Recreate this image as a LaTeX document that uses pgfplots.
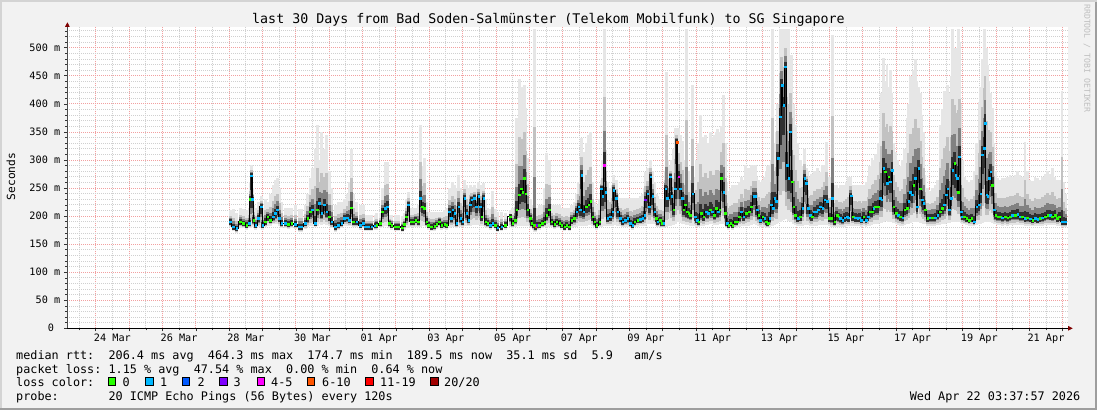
\documentclass[border=0pt]{standalone}
\usepackage{fontspec}
\setmainfont{DejaVu Sans Mono}
\usepackage{pgfplots}
\usepackage{pgfplotstable}
\pgfplotsset{compat=1.18}
\usetikzlibrary{arrows.meta}

\definecolor{bgc}{HTML}{F2F2F2}
\definecolor{shadeA}{HTML}{D4D4D4}
\definecolor{shadeB}{HTML}{9E9E9E}
\definecolor{mgrid}{HTML}{F2A0A0}
\definecolor{ngrid}{HTML}{D0D0D0}
\definecolor{arrowc}{HTML}{7F0000}
\definecolor{ls0}{HTML}{26FF00}
\definecolor{ls1}{HTML}{00B8FF}
\definecolor{ls2}{HTML}{0059FF}
\definecolor{ls3}{HTML}{7E00FF}
\definecolor{ls4}{HTML}{FF00FF}
\definecolor{ls6}{HTML}{FF5500}
\definecolor{ls11}{HTML}{FF0000}
\definecolor{ls20}{HTML}{A10000}
\definecolor{sm1}{HTML}{E6E6E6}
\definecolor{sm2}{HTML}{C2C2C2}
\definecolor{sm3}{HTML}{818181}
\definecolor{sm4}{HTML}{303030}

\newcommand\lgf{\fontsize{11.8pt}{14pt}\selectfont}

% x = days since 24 Mar 00:00, med/lo/hi in ms, c = loss class
\pgfplotstableread{
x med lo hi c
4.03 190 180 210 b
4.13 181 173 212 b
4.23 178 170 205 b
4.33 190 179 215 g
4.43 187 178 212 g
4.53 184 176 210 g
4.60 187 178 215 b
4.64 230 179 260 g
4.67 272 180 291 b
4.70 230 180 250 b
4.74 193 180 220 g
4.80 184 176 215 b
4.88 196 180 225 b
4.96 217 178 235 b
5.01 184 176 215 b
5.08 190 180 230 g
5.16 199 183 225 g
5.24 193 183 240 g
5.33 199 185 255 b
5.38 205 185 265 b
5.45 211 185 268 b
5.51 196 183 250 b
5.58 187 178 225 b
5.68 187 178 215 b
5.78 185 177 215 g
5.88 187 178 215 g
5.99 185 177 220 b
6.10 181 172 212 b
6.18 181 172 212 b
6.28 187 177 220 b
6.36 196 180 240 g
6.43 208 182 267 g
6.50 211 183 285 b
6.58 187 180 320 b
6.64 211 183 362 g
6.71 223 185 300 b
6.78 205 184 350 b
6.86 220 185 320 b
6.93 208 184 344 b
7.00 199 182 280 g
7.08 190 178 250 b
7.18 181 172 220 b
7.28 184 175 225 b
7.38 187 178 225 b
7.46 196 182 230 b
7.54 197 183 240 b
7.60 193 182 260 b
7.66 215 183 320 g
7.73 190 180 240 g
7.83 190 180 225 b
7.93 184 176 220 b
8.03 187 178 220 b
8.08 181 173 202 b
8.18 181 173 202 b
8.28 181 173 202 b
8.38 183 175 202 b
8.43 184 176 205 g
8.53 187 178 205 g
8.60 208 180 250 g
8.68 214 182 297 b
8.75 217 182 297 b
8.80 187 178 202 g
8.88 184 176 202 g
8.98 181 173 202 g
9.08 181 173 202 g
9.19 179 171 200 g
9.26 185 176 205 g
9.32 199 178 230 g
9.38 220 179 243 b
9.46 190 180 214 g
9.53 190 180 214 g
9.60 193 181 214 g
9.68 190 180 220 g
9.73 232 181 362 b
9.80 217 182 290 g
9.86 214 182 303 g
9.93 190 180 225 g
9.98 184 176 208 g
10.06 181 173 208 g
10.16 182 174 208 g
10.23 185 177 208 g
10.30 190 179 208 g
10.38 184 176 208 g
10.46 185 177 210 g
10.53 184 176 215 g
10.60 208 178 250 b
10.66 196 180 240 b
10.71 211 180 260 b
10.76 205 180 255 b
10.83 187 178 250 b
10.88 217 180 273 b
10.95 196 180 250 b
11.01 190 180 245 b
11.06 232 182 265 b
11.13 205 182 255 b
11.18 193 182 250 b
11.23 220 183 255 b
11.28 229 184 252 b
11.35 232 184 255 b
11.41 217 184 250 b
11.48 235 184 261 b
11.53 217 184 255 b
11.58 199 182 250 g
11.63 232 183 258 b
11.70 190 180 230 g
11.76 187 178 215 g
11.83 184 176 212 b
11.90 187 178 245 b
11.98 184 176 212 g
12.06 179 171 208 b
12.18 181 173 208 b
12.28 184 176 205 g
12.43 199 180 210 g
12.50 187 178 215 g
12.58 193 180 240 g
12.63 211 182 374 g
12.70 238 183 445 g
12.76 249 183 404 g
12.80 243 183 430 g
12.85 267 183 433 g
12.90 240 183 392 g
12.96 211 182 303 g
13.03 196 180 230 g
13.08 187 178 220 g
13.13 184 175 215 g
13.17 184 172 534 g
13.20 181 172 215 o
13.24 184 175 215 p
13.30 184 176 220 g
13.39 187 178 220 g
13.46 190 180 250 g
13.53 202 181 312 g
13.60 211 181 300 g
13.68 190 180 220 g
13.76 185 177 220 g
13.83 190 178 220 g
13.91 187 178 220 g
13.97 184 176 215 g
14.06 181 173 215 g
14.13 184 176 215 g
14.20 181 173 215 g
14.28 193 178 220 g
14.35 196 180 225 g
14.43 208 181 240 b
14.48 217 182 260 b
14.53 211 182 303 b
14.58 273 183 339 b
14.63 208 183 315 b
14.71 217 183 330 g
14.78 220 184 344 g
14.85 226 184 350 g
14.90 199 182 260 g
14.96 190 180 225 g
15.03 184 176 220 g
15.11 190 180 230 g
15.16 249 181 265 b
15.21 235 182 300 b
15.25 291 183 534 m
15.30 243 183 318 b
15.36 196 182 260 b
15.43 199 182 250 b
15.50 208 183 255 b
15.54 246 184 273 b
15.61 232 184 265 b
15.66 208 183 240 b
15.73 196 182 232 b
15.80 190 180 232 b
15.88 193 180 232 b
15.96 196 180 232 b
16.03 187 178 232 b
16.10 184 176 232 b
16.17 190 180 232 g
16.26 193 181 232 g
16.33 194 182 235 b
16.40 196 182 240 b
16.46 202 183 250 b
16.48 229 184 279 p
16.56 240 185 285 b
16.60 217 185 285 b
16.65 270 186 300 b
16.70 235 186 280 b
16.76 208 185 260 b
16.81 196 183 240 g
16.86 190 180 235 b
16.93 193 180 230 g
16.98 187 178 230 g
17.03 187 178 230 b
17.10 249 180 280 b
17.13 232 181 457 b
17.16 232 182 300 b
17.23 270 183 290 b
17.28 235 184 300 b
17.33 211 184 320 g
17.38 249 186 356 b
17.43 332 190 356 o
17.48 270 190 356 m
17.53 249 188 345 b
17.59 232 186 333 b
17.63 211 185 300 g
17.68 220 185 290 g
17.73 208 184 534 g
17.78 205 184 280 g
17.83 202 183 265 g
17.90 240 183 433 b
17.98 199 182 270 b
18.03 193 181 300 b
18.08 190 180 330 g
18.15 205 182 380 g
18.23 199 182 340 g
18.30 208 184 345 b
18.36 205 184 330 b
18.43 211 185 350 g
18.48 208 185 340 b
18.55 202 184 345 g
18.61 214 184 350 g
18.66 208 184 355 b
18.71 211 185 350 g
18.76 267 186 360 g
18.83 243 186 416 b
18.88 205 184 330 g
18.93 187 179 260 b
18.98 184 176 245 g
19.04 187 178 250 g
19.10 184 176 255 g
19.16 190 178 255 g
19.23 190 179 255 g
19.30 199 181 260 g
19.36 208 182 270 b
19.43 199 182 265 b
19.50 205 183 291 g
19.59 208 183 285 g
19.66 217 184 291 g
19.73 235 185 291 b
19.78 235 185 291 b
19.83 211 184 270 b
19.88 202 183 265 g
19.93 193 181 260 b
20.00 199 181 265 g
20.06 196 181 270 b
20.11 190 180 280 g
20.16 187 179 290 g
20.21 196 180 291 b
20.26 220 182 300 b
20.31 214 183 534 b
20.36 232 184 330 b
20.41 226 185 350 b
20.46 303 188 400 b
20.53 377 190 534 b
20.58 433 192 534 b
20.63 398 193 534 b
20.68 466 194 534 b
20.73 291 194 534 b
20.78 267 192 534 b
20.83 350 192 487 b
20.88 261 190 487 g
20.93 217 186 400 g
20.98 202 184 362 g
21.06 196 182 330 b
21.13 199 182 300 g
21.20 214 183 290 b
21.26 267 184 320 b
21.31 258 185 285 b
21.36 214 184 280 b
21.43 202 183 270 b
21.48 199 182 275 g
21.55 208 183 280 b
21.61 208 183 275 b
21.66 211 184 285 b
21.73 217 184 279 b
21.80 214 184 291 b
21.86 229 184 291 b
21.93 226 184 332 b
22.00 196 182 270 g
22.06 196 180 265 g
22.09 232 180 523 b
22.16 190 180 255 g
22.23 202 181 255 g
22.28 199 181 250 g
22.33 196 181 255 b
22.40 193 180 255 b
22.46 197 181 255 b
22.53 199 182 260 b
22.57 197 182 270 b
22.65 236 183 270 b
22.71 199 183 255 g
22.78 197 182 255 b
22.85 196 182 255 b
22.90 197 182 255 b
22.96 193 181 255 b
23.03 199 182 255 g
23.10 193 181 260 b
23.16 199 182 270 b
23.21 208 183 290 g
23.28 208 184 303 g
23.33 214 185 300 b
23.38 217 185 310 g
23.46 217 186 330 g
23.53 232 187 362 b
23.57 229 188 420 b
23.63 285 190 481 b
23.68 279 191 440 g
23.73 258 191 470 b
23.78 270 190 430 g
23.83 261 190 460 b
23.88 282 190 420 b
23.93 217 187 330 g
24.00 205 185 315 g
24.06 202 184 300 b
24.13 199 183 290 g
24.20 197 183 300 b
24.26 211 184 320 g
24.33 214 185 375 g
24.38 226 186 400 b
24.43 243 188 450 b
24.48 238 189 420 b
24.53 255 190 460 g
24.58 267 190 480 b
24.63 217 189 440 b
24.68 285 189 430 b
24.73 249 188 420 g
24.78 229 187 380 b
24.83 223 186 350 b
24.87 211 185 273 g
24.95 196 183 250 g
25.02 197 183 245 b
25.09 197 183 250 g
25.17 197 183 255 b
25.25 202 184 265 b
25.32 208 184 362 g
25.39 214 185 390 g
25.45 220 186 422 b
25.50 238 187 410 b
25.55 249 188 433 b
25.60 211 188 420 b
25.65 232 189 450 b
25.70 282 190 534 b
25.76 294 190 500 g
25.79 273 190 481 b
25.84 267 190 500 b
25.87 243 190 534 g
25.90 306 190 510 b
25.95 208 188 400 b
25.99 199 186 300 b
26.05 199 185 270 g
26.12 196 184 265 g
26.19 193 183 260 g
26.27 196 183 265 g
26.34 190 182 280 b
26.42 217 184 330 b
26.49 220 185 404 b
26.54 240 186 430 b
26.59 309 188 480 b
26.64 321 190 534 b
26.67 365 190 534 b
26.72 238 190 500 b
26.75 235 190 470 b
26.79 267 190 440 b
26.84 279 189 420 b
26.89 255 188 392 g
26.94 211 186 330 b
26.99 202 185 280 g
27.05 199 184 267 g
27.12 199 184 265 g
27.19 197 183 267 b
27.27 199 184 267 g
27.35 197 183 270 g
27.42 199 184 273 g
27.49 202 184 270 b
27.57 202 184 273 g
27.65 203 184 280 b
27.72 199 184 273 b
27.79 199 184 270 g
27.87 196 183 332 b
27.94 197 183 280 g
28.02 195 183 265 b
28.10 193 182 262 g
28.17 196 182 270 b
28.25 194 182 268 b
28.32 196 182 265 g
28.39 197 183 270 b
28.47 199 184 275 g
28.55 202 184 280 g
28.62 201 184 275 b
28.69 199 184 285 g
28.77 202 184 270 g
28.84 196 183 265 g
28.90 199 183 265 g
28.98 190 180 422 b
29.02 190 180 260 b
29.09 190 180 240 b
}\rtt

\pgfplotsset{
  smoke/.style={draw=none, mark=none, forget plot,
    error bars/.cd, y dir=plus, y explicit, error mark=none,
    error bar style={draw=#1, solid, line width=2.9pt, line cap=butt}},
}

\begin{document}
\begin{tikzpicture}[x=1pt,y=1pt]
\useasboundingbox (0,0) rectangle (1097,410);
\fill[bgc] (0,0) rectangle (1097,410);
\fill[shadeA] (0,0) rectangle (2,410);
\fill[shadeA] (0,408) rectangle (1097,410);
\fill[shadeB] (0,0) rectangle (1097,2);
\fill[shadeB] (1095,0) rectangle (1097,408);

\begin{axis}[
  at={(67.4pt,81.7pt)}, anchor=south west,
  scale only axis, width=1000.3pt, height=301pt,
  xmin=-0.85, xmax=29.15, ymin=0, ymax=536.3,
  axis background/.style={fill=white},
  axis x line*=bottom, axis y line*=left,
  x axis line style={black, line width=0.6pt, -{Triangle[length=4.5pt,width=4.5pt,color=arrowc]}, shorten >=-5pt},
  y axis line style={black!70, line width=0.6pt, -{Triangle[length=4.5pt,width=4.5pt,color=arrowc]}, shorten >=-5pt},
  xtick={-1,0,...,30}, xticklabels={},
  minor x tick num=1,
  extra x ticks={0.5,2.5,4.5,6.5,8.5,10.5,12.5,14.5,16.5,18.5,20.5,22.5,24.5,26.5,28.5},
  extra x tick labels={24 Mar,26 Mar,28 Mar,30 Mar,01 Apr,03 Apr,05 Apr,07 Apr,09 Apr,11 Apr,13 Apr,15 Apr,17 Apr,19 Apr,21 Apr},
  extra x tick style={grid=none, major tick length=0pt},
  ytick={0,50,...,550},
  yticklabels={0~~,50 m,100 m,150 m,200 m,250 m,300 m,350 m,400 m,450 m,500 m,550 m},
  minor y tick num=4,
  grid=both,
  major grid style={mgrid, dash pattern=on 1pt off 1pt, line width=0.7pt},
  minor grid style={ngrid, dash pattern=on 1pt off 1pt, line width=0.7pt},
  tick align=outside,
  major tick length=3pt, minor tick length=2pt,
  tick style={black!80, line width=0.5pt},
  ticklabel style={font=\fontsize{10.2pt}{12pt}\selectfont},
  xticklabel style={anchor=base, inner sep=0pt, yshift=-12.7pt},
  yticklabel style={anchor=base east, inner sep=0pt, xshift=-4pt, yshift=-3.6pt},
  clip=true,
]
\addplot[smoke=sm1] table[x=x, y=lo,
  y error expr=\thisrow{hi}-\thisrow{lo}]{\rtt};
\addplot[smoke=sm2] table[x=x, y expr=\thisrow{med}-0.75*(\thisrow{med}-\thisrow{lo}),
  y error expr=0.5*(\thisrow{hi}-\thisrow{med})+0.75*(\thisrow{med}-\thisrow{lo})]{\rtt};
\addplot[smoke=sm3] table[x=x, y expr=\thisrow{med}-0.5*(\thisrow{med}-\thisrow{lo}),
  y error expr=0.24*(\thisrow{hi}-\thisrow{med})+2+0.5*(\thisrow{med}-\thisrow{lo})]{\rtt};
\addplot[smoke=sm4] table[x=x, y expr=\thisrow{med}-3-0.25*(\thisrow{med}-\thisrow{lo}),
  y error expr=6+0.08*(\thisrow{hi}-\thisrow{med})+0.25*(\thisrow{med}-\thisrow{lo})]{\rtt};
\addplot[black, line width=0.8pt, const plot mark mid, forget plot] table[x=x,y=med]{\rtt};
\addplot[scatter, only marks, mark=square*, mark size=0.8pt, scatter src=explicit symbolic,
  scatter/classes={
    g={mark=square*, draw=ls0, fill=ls0},
    b={mark=square*, draw=ls1, fill=ls1},
    d={mark=square*, draw=ls2, fill=ls2},
    p={mark=square*, draw=ls3, fill=ls3},
    m={mark=square*, draw=ls4, fill=ls4},
    o={mark=square*, draw=ls6, fill=ls6}},
  forget plot] table[x=x,y=med,meta=c]{\rtt};
\end{axis}

\node[anchor=base, inner sep=0pt, font=\fontsize{13.3pt}{15pt}\selectfont] at (548.5,386.6)
  {last 30 Days from Bad Soden-Salmünster (Telekom Mobilfunk) to SG Singapore};
\node[rotate=90, inner sep=0pt, font=\fontsize{11.2pt}{13pt}\selectfont] at (11,233.5) {Seconds};
\node[rotate=-90, inner sep=0pt, text=black!25, font=\fontsize{8.2pt}{9pt}\selectfont] at (1087,351.5) {RRDTOOL / TOBI OETIKER};

\node[anchor=base west, inner sep=0pt, font=\lgf] at (16,51)
  {median~rtt:~~206.4~ms~avg~~464.3~ms~max~~174.7~ms~min~~189.5~ms~now~~35.1~ms~sd~~5.9~~~am/s};
\node[anchor=base west, inner sep=0pt, font=\lgf] at (16,37)
  {packet~loss:~1.15~\%~avg~~47.54~\%~max~~0.00~\%~min~~0.64~\%~now};
\node[anchor=base west, inner sep=0pt, font=\lgf] at (16,23.3) {loss~color:};
\node[anchor=base west, inner sep=0pt, font=\lgf] at (16,9.3)
  {probe:~~~~~~~20~ICMP~Echo~Pings~(56~Bytes)~every~120s};
\node[anchor=base east, inner sep=0pt, font=\lgf] at (1080.5,9.3) {Wed Apr 22 03:37:57 2026};

\foreach \bx/\col/\lx/\lab in {108.3/ls0/122.5/0, 145.7/ls1/160/1, 182.3/ls2/197.5/2, 219.7/ls3/233.5/3, 257/ls4/271/4-5, 307.3/ls6/322/6-10, 365.7/ls11/380/11-19, 430.7/ls20/444/20\slash20}{
  \filldraw[fill=\col, draw=black, line width=0.8pt] (\bx,24.5) rectangle ++(7.3,7.8);
  \node[anchor=base west, inner sep=0pt, font=\lgf] at (\lx,23.3) {\lab};
}
\end{tikzpicture}
\end{document}
